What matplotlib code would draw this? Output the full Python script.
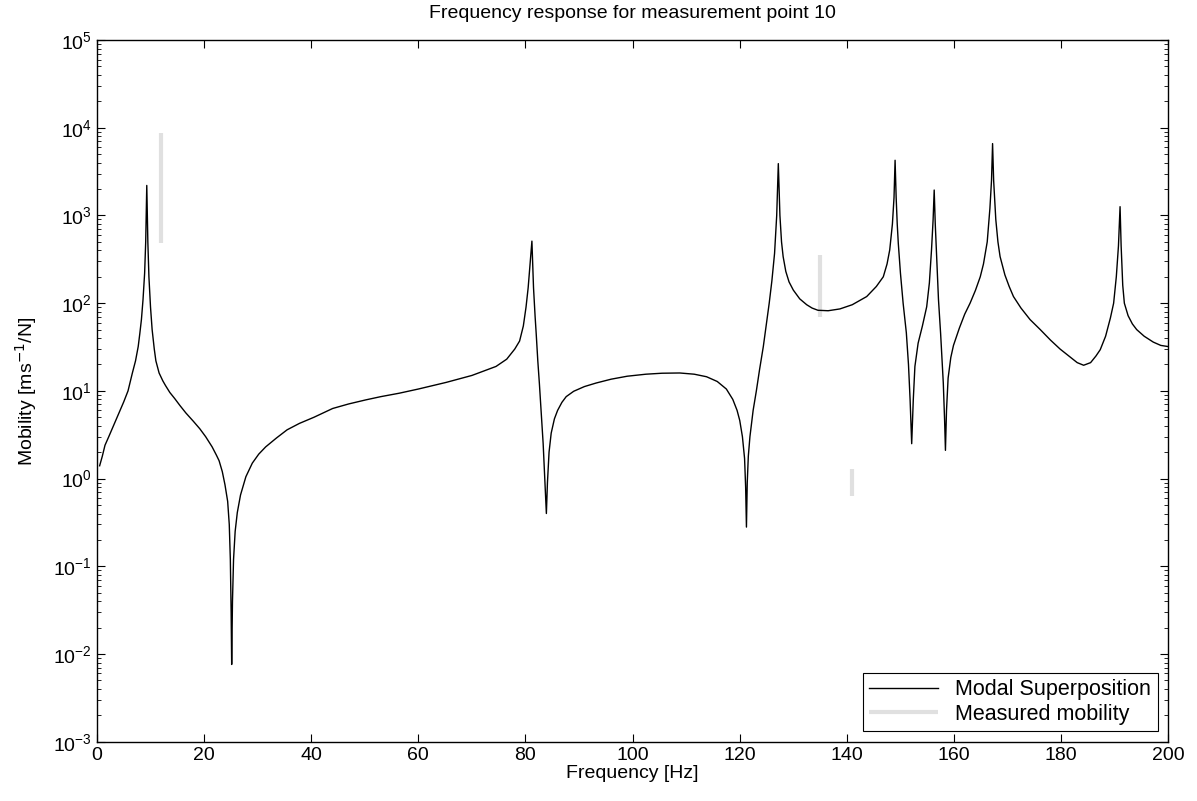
import matplotlib
matplotlib.use("Agg")
import matplotlib.pyplot as plt
from matplotlib.ticker import LogLocator, NullFormatter

plt.rcParams["font.family"] = ["Liberation Sans", "DejaVu Sans"]

# Modal superposition curve (Hz, m/s/N)
model_freq = [
    0.5, 1.0, 1.5, 2.2, 3.0, 4.1, 5.0, 5.8, 6.6, 7.2, 7.7, 8.0, 8.3, 8.6,
    8.9, 9.1, 9.3, 9.5, 9.7, 10.0, 10.3, 10.7, 11.0, 11.6, 12.3, 12.8, 13.6,
    14.5, 15.5, 16.6, 18.0, 19.2, 20.3, 21.5, 22.3, 22.8, 23.4, 23.9, 24.4,
    24.7, 24.9, 25.05, 25.15, 25.3, 25.5, 25.8, 26.2, 26.8, 27.8, 29.0,
    30.2, 31.5, 33.5, 35.5, 37.8, 40.5, 44.0, 47.0, 50.2, 53.0, 56.4, 60.0,
    65.2, 70.0, 74.5, 76.5, 78.0, 78.9, 79.6, 80.1, 80.5, 80.8, 81.2, 81.5,
    81.8, 82.0, 82.3, 82.6, 83.0, 83.3, 83.6, 83.9, 84.1, 84.4, 84.8, 85.4,
    86.0, 86.8, 87.6, 89.0, 91.0, 93.2, 96.0, 99.0, 102.5, 105.5, 108.8,
    111.5, 113.8, 115.8, 117.5, 118.7, 119.5, 120.0, 120.5, 120.9, 121.1,
    121.25, 121.4, 121.6, 121.9, 122.5, 123.1, 123.7, 124.4, 125.0, 125.5,
    126.0, 126.5, 126.9, 127.2, 127.5, 127.8, 128.1, 128.6, 129.2, 130.0,
    131.2, 132.5, 133.5, 134.6, 136.5, 138.7, 141.0, 143.7, 145.5, 146.8,
    147.5, 148.0, 148.5, 148.8, 149.0, 149.2, 149.4, 149.6, 150.0, 150.5,
    151.1, 151.5, 151.8, 152.1, 152.4, 152.7, 153.3, 154.1, 154.9, 155.4,
    155.8, 156.1, 156.3, 156.5, 156.8, 157.1, 157.5, 158.0, 158.25, 158.4,
    158.6, 158.9, 159.4, 159.9, 161.0, 162.0, 163.0, 164.0, 164.9, 165.5,
    166.2, 166.7, 167.0, 167.2, 167.4, 167.8, 168.2, 168.6, 169.5, 170.3,
    171.1, 172.5, 174.2, 176.1, 178.0, 179.8, 181.8, 183.0, 184.2, 185.5,
    186.5, 187.3, 188.3, 189.2, 189.8, 190.3, 190.7, 191.0, 191.2, 191.5,
    191.8, 192.5, 193.3, 194.1, 195.5, 197.2, 198.6, 200.0]
model_mob = [
    1.4, 1.8, 2.4, 3.0, 3.9, 5.6, 7.5, 10, 15.9, 22, 32, 45, 65, 110,
    220, 500, 2200, 500, 200, 90, 50, 30, 22, 16, 13, 11.5, 9.6,
    8.2, 6.8, 5.6, 4.5, 3.7, 3.0, 2.3, 1.85, 1.6, 1.2, 0.85, 0.55,
    0.3, 0.12, 0.03, 0.0076, 0.04, 0.12, 0.25, 0.41, 0.65, 1.05, 1.5,
    1.9, 2.3, 2.9, 3.6, 4.26, 5.0, 6.3, 7.1, 7.9, 8.6, 9.4, 10.5,
    12.5, 15, 19, 23, 30, 37, 55, 90, 150, 250, 510, 150,
    70, 45, 22, 12, 5, 2.5, 1.0, 0.4, 0.9, 2.0, 3.3, 4.8,
    6.0, 7.4, 8.6, 9.9, 11.2, 12.3, 13.6, 14.7, 15.5, 15.9, 16.0,
    15.5, 14.5, 12.8, 10.5, 8.0, 6.0, 4.6, 3.0, 1.7, 0.8,
    0.28, 0.9, 1.8, 3.0, 6.0, 10, 17.5, 32, 60, 100,
    180, 370, 1000, 3900, 1000, 500, 340, 230, 175, 141,
    112, 96, 88, 83, 82, 86, 96, 119, 155, 200,
    280, 405, 800, 1600, 4260, 1600, 800, 480, 220, 100,
    46, 20, 8, 2.5, 8, 19, 35, 55, 91, 170,
    405, 900, 1950, 800, 300, 110, 45, 12.3, 4.5, 2.1,
    6, 14, 24, 33, 52, 75, 100, 140, 200, 280,
    500, 1200, 2500, 6600, 2500, 900, 500, 340, 210, 155,
    119, 88, 65, 50, 38, 30, 24, 21, 19.6, 21,
    25, 29.5, 42, 68, 100, 200, 450, 1260, 450, 160,
    100, 72, 58, 50, 42, 36, 33, 32]

# Measured mobility: only the spikes that stick out from under the model line
meas_freq = [11.9, 135.0, 140.9]
meas_low = [490, 70, 0.63]
meas_high = [8700, 350, 1.3]

fig = plt.figure(figsize=(11.97, 8.01), dpi=100)
ax = fig.add_axes([0.081, 0.074, 0.895, 0.876])

ax.vlines(meas_freq, meas_low, meas_high, color="#e0e0e0", linewidth=3.0,
          label="Measured mobility", zorder=1)
ax.plot(model_freq, model_mob, color="black", linewidth=1.0,
        label="Modal Superposition", zorder=2)

ax.set_yscale("log")
ax.set_xlim(0, 200)
ax.set_ylim(1e-3, 1e5)
ax.set_xticks(range(0, 201, 20))
ax.yaxis.set_major_locator(LogLocator(base=10, numticks=20))
ax.yaxis.set_minor_locator(LogLocator(base=10, subs=range(2, 10), numticks=100))
ax.yaxis.set_minor_formatter(NullFormatter())
ax.tick_params(which="both", direction="in", top=True, right=True,
               labelsize=14)
ax.tick_params(which="major", length=6)
ax.tick_params(which="minor", length=3)
for spine in ax.spines.values():
    spine.set_linewidth(1.0)

ax.set_title("Frequency response for measurement point 10", fontsize=14,
             pad=16)
ax.set_xlabel("Frequency [Hz]", fontsize=14, labelpad=1)
ax.set_ylabel("Mobility [ms$^{-1}$/N]", fontsize=14, labelpad=10)

handles, labels = ax.get_legend_handles_labels()
leg = ax.legend(handles[::-1], labels[::-1], loc="lower right", fontsize=15.5,
                fancybox=False, edgecolor="black", framealpha=1,
                borderaxespad=0.5, handlelength=3.2, borderpad=0.3,
                labelspacing=0.15, handletextpad=0.8)
leg.get_frame().set_linewidth(0.8)

fig.savefig("out.png", dpi=100)
